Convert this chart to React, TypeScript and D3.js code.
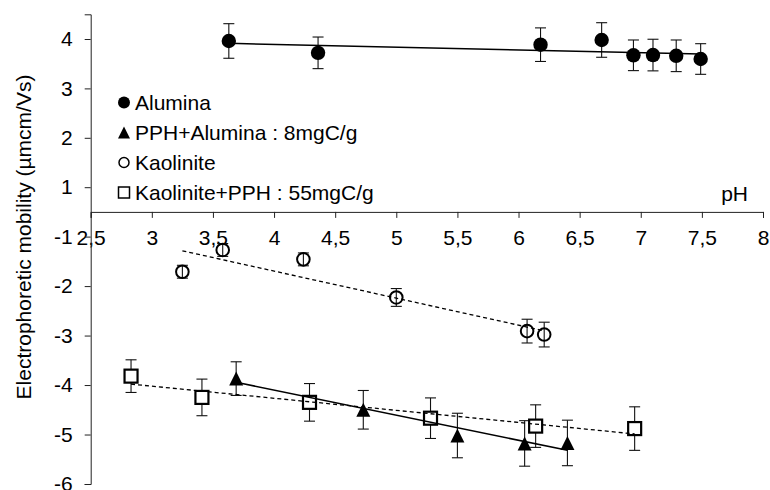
import * as d3 from 'd3';
import React, { useEffect, useRef } from 'react';

// axis ticks (the original figure has no "0" label on the y axis)
const xTicks = [2.5, 3, 3.5, 4, 4.5, 5, 5.5, 6, 6.5, 7, 7.5, 8];
const yTicks = [4, 3, 2, 1, -1, -2, -3, -4, -5, -6];

// Alumina
const aluminaPH = [3.63, 4.36, 6.18, 6.68, 6.94, 7.10, 7.29, 7.49];
const aluminaMob = [3.96, 3.72, 3.885, 3.98, 3.67, 3.675, 3.66, 3.595];
const aluminaErr = [0.35, 0.32, 0.34, 0.35, 0.31, 0.32, 0.32, 0.31];

// PPH+Alumina : 8mgC/g
const pphAluminaPH = [3.69, 4.73, 5.50, 6.05, 6.40];
const pphAluminaMob = [-3.87, -4.50, -5.02, -5.18, -5.17];
const pphAluminaErr = [0.34, 0.39, 0.45, 0.46, 0.46];

// Kaolinite
const kaolinitePH = [3.25, 3.58, 4.24, 5.00, 6.07, 6.21];
const kaoliniteMob = [-1.71, -1.27, -1.46, -2.23, -2.91, -2.98];
const kaoliniteErr = [0.13, 0.13, 0.13, 0.18, 0.24, 0.25];

// Kaolinite+PPH : 55mgC/g
const kaoPphPH = [2.83, 3.41, 4.29, 5.28, 6.14, 6.95];
const kaoPphMob = [-3.82, -4.25, -4.35, -4.67, -4.83, -4.88];
const kaoPphErr = [0.33, 0.37, 0.38, 0.41, 0.43, 0.44];

type Marker = 'disc' | 'triangle' | 'circle' | 'square';

const series: { name: string; ph: number[]; mob: number[]; err: number[]; marker: Marker; dashed: boolean }[] = [
  { name: 'Alumina', ph: aluminaPH, mob: aluminaMob, err: aluminaErr, marker: 'disc', dashed: false },
  { name: 'PPH+Alumina : 8mgC/g', ph: pphAluminaPH, mob: pphAluminaMob, err: pphAluminaErr, marker: 'triangle', dashed: false },
  { name: 'Kaolinite', ph: kaolinitePH, mob: kaoliniteMob, err: kaoliniteErr, marker: 'circle', dashed: true },
  { name: 'Kaolinite+PPH : 55mgC/g', ph: kaoPphPH, mob: kaoPphMob, err: kaoPphErr, marker: 'square', dashed: true },
];

const FONT = '"Liberation Sans", Arial, sans-serif';
const FS = 21;

// least squares trend line, like the spreadsheet's linear trendline
const linearFit = (xs: number[], ys: number[]) => {
  const mx = d3.mean(xs)!;
  const my = d3.mean(ys)!;
  const sxy = d3.sum(xs, (x, i) => (x - mx) * (ys[i] - my));
  const sxx = d3.sum(xs, x => (x - mx) ** 2);
  const slope = sxy / sxx;
  return (x: number) => my + slope * (x - mx);
};

const drawMarker = (
  g: d3.Selection<SVGGElement, unknown, null, undefined>,
  type: Marker,
  cx: number,
  cy: number,
  big: boolean
) => {
  if (type === 'disc') {
    g.append('circle').attr('cx', cx).attr('cy', cy).attr('r', big ? 7.2 : 6).attr('fill', '#000');
  } else if (type === 'circle') {
    g.append('circle').attr('cx', cx).attr('cy', cy).attr('r', big ? 6.3 : 5)
      .attr('fill', 'none').attr('stroke', '#000').attr('stroke-width', big ? 2 : 1.5);
  } else if (type === 'triangle') {
    const w = big ? 14 : 12;
    g.append('path')
      .attr('d', `M${cx},${cy - w / 2}L${cx + w / 2},${cy + w / 2}L${cx - w / 2},${cy + w / 2}Z`)
      .attr('fill', '#000');
  } else {
    const s = big ? 13 : 11;
    g.append('rect').attr('x', cx - s / 2).attr('y', cy - s / 2).attr('width', s).attr('height', s)
      .attr('fill', '#fff').attr('stroke', '#000').attr('stroke-width', big ? 2.2 : 1.5);
  }
};

export default function App() {
  const svgRef = useRef<SVGSVGElement>(null);

  useEffect(() => {
    const svg = d3.select(svgRef.current).html('');
    svg.style('font-family', FONT);

    const x = d3.scaleLinear().domain([2.5, 8]).range([90.7, 763]);
    // the picture's y axis jumps from -1 to 1 around the x axis
    const y = d3.scaleLinear().domain([-6, -1, 1, 4.5]).range([484, 236.6, 187.2, 14.3]);

    const comma = d3.formatLocale({ decimal: ',', thousands: '.', grouping: [3], currency: ['', ''] }).format('~g');

    // x axis (crosses at the break)
    const xAxis = svg.append('g')
      .attr('transform', `translate(0,${y(0)})`)
      .call(d3.axisBottom(x).tickValues(xTicks).tickSizeOuter(0).tickSize(6).tickPadding(12).tickFormat(d => comma(d as number)));
    xAxis.select('.domain').attr('stroke', '#222');
    xAxis.selectAll('line').attr('stroke', '#222');
    xAxis.selectAll('text').attr('font-size', FS).attr('font-family', FONT).attr('fill', '#000');

    // y axis
    const yAxis = svg.append('g')
      .attr('transform', `translate(${x(2.5)},0)`)
      .call(d3.axisLeft(y).tickValues(yTicks).tickSizeOuter(0).tickSize(6).tickPadding(12).tickFormat(d => String(d)));
    yAxis.select('.domain').attr('stroke', '#222');
    yAxis.selectAll('line').attr('stroke', '#222');
    yAxis.selectAll('text').attr('font-size', FS).attr('font-family', FONT).attr('fill', '#000');

    svg.append('text')
      .attr('transform', `translate(31,237) rotate(-90)`)
      .attr('text-anchor', 'middle')
      .attr('font-size', FS)
      .text('Electrophoretic mobility (µmcm/Vs)');

    svg.append('text')
      .attr('x', 748)
      .attr('y', 201)
      .attr('text-anchor', 'end')
      .attr('font-size', FS)
      .text('pH');

    const plot = svg.append('g');

    series.forEach(s => {
      const gs = plot.append('g');
      // error bars
      s.ph.forEach((p, i) => {
        const cx = x(p);
        const y0 = y(s.mob[i] + s.err[i]);
        const y1 = y(s.mob[i] - s.err[i]);
        const eb = gs.append('g').attr('stroke', '#111').attr('stroke-width', 1.1);
        eb.append('line').attr('x1', cx).attr('x2', cx).attr('y1', y0).attr('y2', y1);
        eb.append('line').attr('x1', cx - 5.5).attr('x2', cx + 5.5).attr('y1', y0).attr('y2', y0);
        eb.append('line').attr('x1', cx - 5.5).attr('x2', cx + 5.5).attr('y1', y1).attr('y2', y1);
      });
      s.ph.forEach((p, i) => drawMarker(gs, s.marker, x(p), y(s.mob[i]), true));
    });

    // trend lines on top of markers
    series.forEach(s => {
      const f = linearFit(s.ph, s.mob);
      const [lo, hi] = d3.extent(s.ph) as [number, number];
      plot.append('line')
        .attr('x1', x(lo)).attr('y1', y(f(lo)))
        .attr('x2', x(hi)).attr('y2', y(f(hi)))
        .attr('stroke', '#000')
        .attr('stroke-width', s.dashed ? 1.3 : 1.5)
        .attr('stroke-dasharray', s.dashed ? '4,3' : null);
    });

    // legend
    const legend = svg.append('g').attr('transform', 'translate(124,102.5)');
    series.forEach((s, i) => {
      const row = legend.append('g').attr('transform', `translate(0,${i * 30})`);
      drawMarker(row, s.marker, 0, 0, false);
      row.append('text')
        .attr('x', 11)
        .attr('y', 0)
        .attr('dy', '0.36em')
        .attr('font-size', FS)
        .text(s.name);
    });
  }, []);

  return (
    <div style={{ position: 'absolute', left: 0, top: 0 }}>
      <svg ref={svgRef} width={770} height={490} style={{ display: 'block', background: '#fff' }} />
    </div>
  );
}
